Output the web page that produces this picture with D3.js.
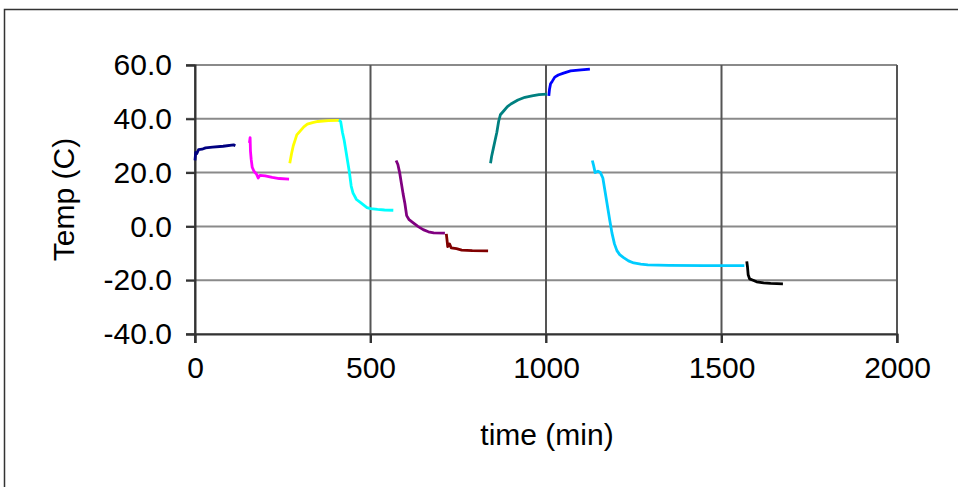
<!DOCTYPE html>
<html>
<head>
<meta charset="utf-8">
<script src="https://cdn.jsdelivr.net/npm/d3@7"></script>
<style>
  body { margin: 0; background: #fff; }
  svg { display: block; font-family: Arial, "Liberation Sans", sans-serif; }
  .grid-h { stroke: #8a8a8a; stroke-width: 2; }
  .grid-v { stroke: #555; stroke-width: 2; }
  .run { fill: none; stroke-width: 2.8; stroke-linejoin: round; }
</style>
</head>
<body>
<svg width="958" height="487"></svg>
<script>
// tick values
var xTicks = [0, 500, 1000, 1500, 2000];
var yTicks = [-40, -20, 0, 20, 40, 60];

// each run: [time (min), temp (C)]
var run1 = [[0,24.5],[2,27.5],[5,27],[10,28.5],[20,28.7],[30,29.2],[50,29.5],[80,29.8],[110,30.3],[115,30]];
var run2 = [[155,31],[157,33],[158,28],[160,25],[163,22],[168,20.5],[175,19.5],[180,18],[185,19],[200,18.8],[220,18.2],[240,17.8],[268,17.6]];
var run3 = [[270,23.5],[275,27],[280,30],[285,32],[290,34],[300,35.5],[310,37],[320,38],[335,38.6],[350,39],[380,39.3],[410,39.4]];
var run4 = [[410,39.5],[415,39],[420,35],[425,32],[430,28],[435,24],[440,20],[445,15],[450,12.5],[460,10],[470,9],[480,8],[490,7],[500,6.6],[520,6.3],[540,6.1],[565,6]];
var run5 = [[573,24.5],[578,23],[583,20],[588,16],[593,12],[598,8.5],[603,4],[610,2.5],[620,1.5],[635,0],[650,-1.2],[665,-2],[680,-2.4],[712,-2.5]];
var run6 = [[716,-2.8],[718,-5],[720,-7.5],[725,-6.5],[730,-8],[745,-8.3],[760,-8.8],[790,-9],[835,-9.1]];
var run7 = [[842,23.5],[845,26],[850,29],[855,32],[860,35],[865,39],[870,41.5],[880,43],[890,44.5],[900,45.5],[920,47],[940,48],[960,48.5],[980,49],[1003,49.2]];
var run8 = [[1008,48.5],[1010,51],[1013,53],[1018,54],[1025,55.5],[1035,56.3],[1050,57],[1070,57.8],[1100,58.2],[1125,58.5]];
var run9 = [[1132,24.5],[1135,23],[1140,20],[1148,20.5],[1155,20],[1162,18],[1167,14],[1172,10],[1177,6],[1182,2],[1188,-2.5],[1195,-6.5],[1202,-9],[1210,-10.5],[1220,-11.5],[1235,-12.8],[1250,-13.6],[1270,-14],[1290,-14.3],[1350,-14.5],[1450,-14.6],[1565,-14.6]];
var run10 = [[1572,-13],[1574,-15],[1576,-18],[1580,-19.5],[1590,-20],[1600,-20.6],[1620,-21],[1640,-21.2],[1675,-21.4]];

var runs = [run1, run2, run3, run4, run5, run6, run7, run8, run9, run10];
var colors = ['#000080', '#ff00ff', '#ffff00', '#00ffff', '#800080',
              '#800000', '#008080', '#0000ff', '#00ccff', '#000000'];

var svg = d3.select('svg'),
    pLeft = 195, pRight = 897, pTop = 65, pBottom = 334;

// outer chart frame (runs off the right and bottom edge)
svg.append('rect')
    .attr('x', 4.5).attr('y', 9.5)
    .attr('width', 1000).attr('height', 600)
    .attr('fill', 'none')
    .attr('stroke', '#333')
    .attr('stroke-width', 1.5);

var x = d3.scaleLinear().domain([0, 2000]).range([pLeft, pRight]),
    y = d3.scaleLinear().domain([-40, 60]).range([pBottom, pTop]);

// gridlines
svg.append('g').selectAll('line')
    .data(yTicks)
    .enter().append('line')
    .attr('class', 'grid-h')
    .attr('x1', pLeft - 9).attr('x2', pRight)
    .attr('y1', function(d){ return y(d); })
    .attr('y2', function(d){ return y(d); });

svg.append('g').selectAll('line')
    .data(xTicks)
    .enter().append('line')
    .attr('class', 'grid-v')
    .attr('x1', function(d){ return x(d); })
    .attr('x2', function(d){ return x(d); })
    .attr('y1', pTop).attr('y2', pBottom + 9);

// axes (plain hyphen for negatives, like the original)
var yAxis = d3.axisLeft(y).tickValues(yTicks).tickSize(9).tickPadding(14)
      .tickFormat(function(d){ return d.toFixed(1); }),
    xAxis = d3.axisBottom(x).tickValues(xTicks).tickSize(9).tickPadding(14)
      .tickFormat(function(d){ return String(d); });

var gy = svg.append('g').attr('transform', 'translate(' + pLeft + ',0)').call(yAxis);
var gx = svg.append('g').attr('transform', 'translate(0,' + pBottom + ')').call(xAxis);

[gx, gy].forEach(function(g){
  g.select('.domain').attr('stroke', '#333').attr('stroke-width', 2);
  g.selectAll('.tick line').attr('stroke', '#333').attr('stroke-width', 2);
  g.selectAll('.tick text').attr('fill', '#000').style('font-size', '30px');
});

// data lines
var line = d3.line()
    .x(function(d){ return x(d[0]); })
    .y(function(d){ return y(d[1]); });

svg.append('g').selectAll('path')
    .data(runs)
    .enter().append('path')
    .attr('class', 'run')
    .attr('stroke', function(d, i){ return colors[i]; })
    .attr('d', line);

// axis titles
svg.append('text')
    .attr('x', 547).attr('y', 445)
    .attr('text-anchor', 'middle')
    .style('font-size', '30px')
    .text('time (min)');

svg.append('text')
    .attr('transform', 'translate(74,' + ((pTop + pBottom) / 2) + ') rotate(-90)')
    .attr('text-anchor', 'middle')
    .style('font-size', '30px')
    .text('Temp (C)');
</script>
</body>
</html>
